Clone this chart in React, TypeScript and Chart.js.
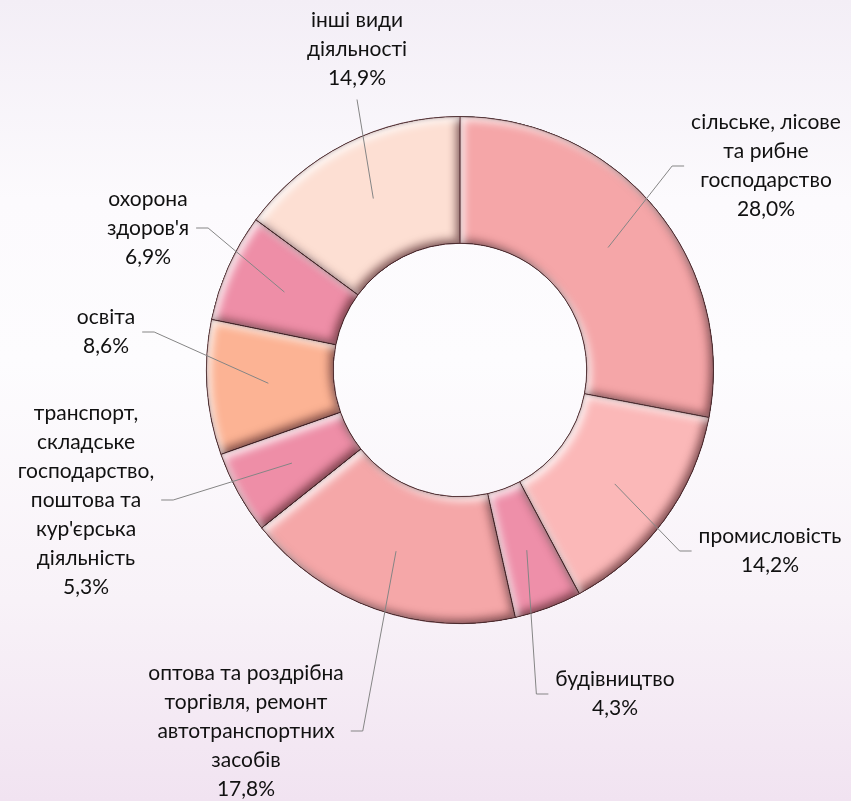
import { useEffect, useRef } from 'react';
import { Chart, registerables } from 'chart.js';

Chart.register(...registerables);

const categories = [
  'сільське, лісове та рибне господарство',
  'промисловість',
  'будівництво',
  'оптова та роздрібна торгівля, ремонт автотранспортних засобів',
  "транспорт, складське господарство, поштова та кур'єрська діяльність",
  'освіта',
  "охорона здоров'я",
  'інші види діяльності',
];

const labelLines: string[][] = [
  ['сільське, лісове', 'та рибне', 'господарство'],
  ['промисловість'],
  ['будівництво'],
  ['оптова та роздрібна', 'торгівля, ремонт', 'автотранспортних', 'засобів'],
  ['транспорт,', 'складське', 'господарство,', 'поштова та', "кур'єрська", 'діяльність'],
  ['освіта'],
  ['охорона', "здоров'я"],
  ['інші види', 'діяльності'],
];

const values = [28.0, 14.2, 4.3, 17.8, 5.3, 8.6, 6.9, 14.9];

const colors = ['#F5A6A8', '#FBB8B8', '#EE8FA9', '#F5A7A8', '#EE8EA7', '#FCB394', '#EE8EA7', '#FDDFD3'];

// label block centres relative to the doughnut centre (layout only)
const labelOffsets: [number, number][] = [
  [306, -204],
  [310, 181],
  [155, 324],
  [-214, 361],
  [-374, 130],
  [-354, -38],
  [-312, -142],
  [-103, -321],
];

const FONT = '21px Lato, "Open Sans", sans-serif';
const LINE_H = 29;

function formatValue(v: number) {
  return v.toFixed(1).replace('.', ',') + '%';
}

const bevelPlugin = {
  id: 'bevel',
  afterDatasetDraw(chart: any) {
    const ctx = chart.ctx as CanvasRenderingContext2D;
    const meta = chart.getDatasetMeta(0);
    meta.data.forEach((arc: any) => {
      const { x, y, startAngle, endAngle, innerRadius, outerRadius } = arc.getProps(
        ['x', 'y', 'startAngle', 'endAngle', 'innerRadius', 'outerRadius'],
        true
      );
      const arcPath = () => {
        ctx.moveTo(x + Math.cos(startAngle) * outerRadius, y + Math.sin(startAngle) * outerRadius);
        ctx.arc(x, y, outerRadius, startAngle, endAngle);
        ctx.arc(x, y, innerRadius, endAngle, startAngle, true);
        ctx.closePath();
      };
      const inner = (color: string, blur: number, ox: number, oy: number) => {
        ctx.save();
        ctx.beginPath();
        ctx.rect(-3000, -3000, 7000, 7000);
        arcPath();
        ctx.shadowColor = color;
        ctx.shadowBlur = blur;
        ctx.shadowOffsetX = ox;
        ctx.shadowOffsetY = oy;
        ctx.fillStyle = '#000';
        ctx.fill('evenodd');
        ctx.restore();
      };
      ctx.save();
      ctx.beginPath();
      arcPath();
      ctx.clip();
      inner('rgba(70,25,30,0.6)', 9, -4, -4);
      inner('rgba(255,255,255,0.9)', 8, 4, 4);
      inner('rgba(60,20,25,0.4)', 4, 0, 0);
      ctx.restore();
      ctx.save();
      ctx.beginPath();
      arcPath();
      ctx.lineWidth = 1;
      ctx.strokeStyle = 'rgba(90,45,50,0.6)';
      ctx.stroke();
      ctx.restore();
    });
  },
  afterDraw(chart: any) {
    const ctx = chart.ctx as CanvasRenderingContext2D;
    const meta = chart.getDatasetMeta(0);
    ctx.save();
    ctx.font = FONT;
    ctx.textAlign = 'center';
    ctx.textBaseline = 'middle';
    meta.data.forEach((arc: any, i: number) => {
      const { x, y, startAngle, endAngle, innerRadius, outerRadius } = arc.getProps(
        ['x', 'y', 'startAngle', 'endAngle', 'innerRadius', 'outerRadius'],
        true
      );
      const mid = (startAngle + endAngle) / 2;
      const r = (innerRadius + outerRadius) / 2 + 2;
      const ax = x + Math.cos(mid) * r;
      const ay = y + Math.sin(mid) * r;
      const lines = [...labelLines[i], formatValue(values[i])];
      const [dx, dy] = labelOffsets[i];
      const cx = x + dx;
      const cy = y + dy;
      const w = Math.max(...lines.map((l) => ctx.measureText(l).width));
      const h = lines.length * LINE_H;
      ctx.strokeStyle = '#858585';
      ctx.lineWidth = 1;
      ctx.beginPath();
      ctx.moveTo(ax, ay);
      if (dy < -250 && Math.abs(dx) < 150) {
        ctx.lineTo(cx, cy + h / 2 + 7);
      } else if (dx > 0) {
        const left = cx - w / 2;
        ctx.lineTo(left - 19, cy);
        ctx.lineTo(left - 7, cy);
      } else {
        const right = cx + w / 2;
        ctx.lineTo(right + 19, cy);
        ctx.lineTo(right + 7, cy);
      }
      ctx.stroke();
      ctx.fillStyle = '#111';
      lines.forEach((l, k) => {
        ctx.fillText(l, cx, cy - h / 2 + LINE_H / 2 + k * LINE_H);
      });
    });
    ctx.restore();
  },
};

export default function App() {
  const ref = useRef<HTMLCanvasElement>(null);
  useEffect(() => {
    if (!ref.current) return;
    const chart = new Chart(ref.current, {
      type: 'doughnut',
      data: {
        labels: categories,
        datasets: [
          {
            data: values,
            backgroundColor: colors,
            borderColor: 'rgba(90,45,50,0.6)',
            borderWidth: 1,
          },
        ],
      },
      options: {
        responsive: false,
        animation: false,
        cutout: '50%',
        layout: { padding: { left: 206, right: 137, top: 116, bottom: 177 } },
        plugins: {
          legend: { display: false },
          tooltip: { enabled: false },
        },
      },
      plugins: [bevelPlugin],
    });
    return () => chart.destroy();
  }, []);
  return (
    <div
      style={{
        position: 'absolute',
        left: 0,
        top: 0,
        width: 851,
        height: 801,
        background: 'linear-gradient(to bottom, #F3EEF6 0%, #FCFAFD 25%, #FDFCFE 45%, #F8F2F8 75%, #F1E3F1 100%)',
      }}
    >
      <canvas ref={ref} width={851} height={801} style={{ display: 'block' }} />
    </div>
  );
}
